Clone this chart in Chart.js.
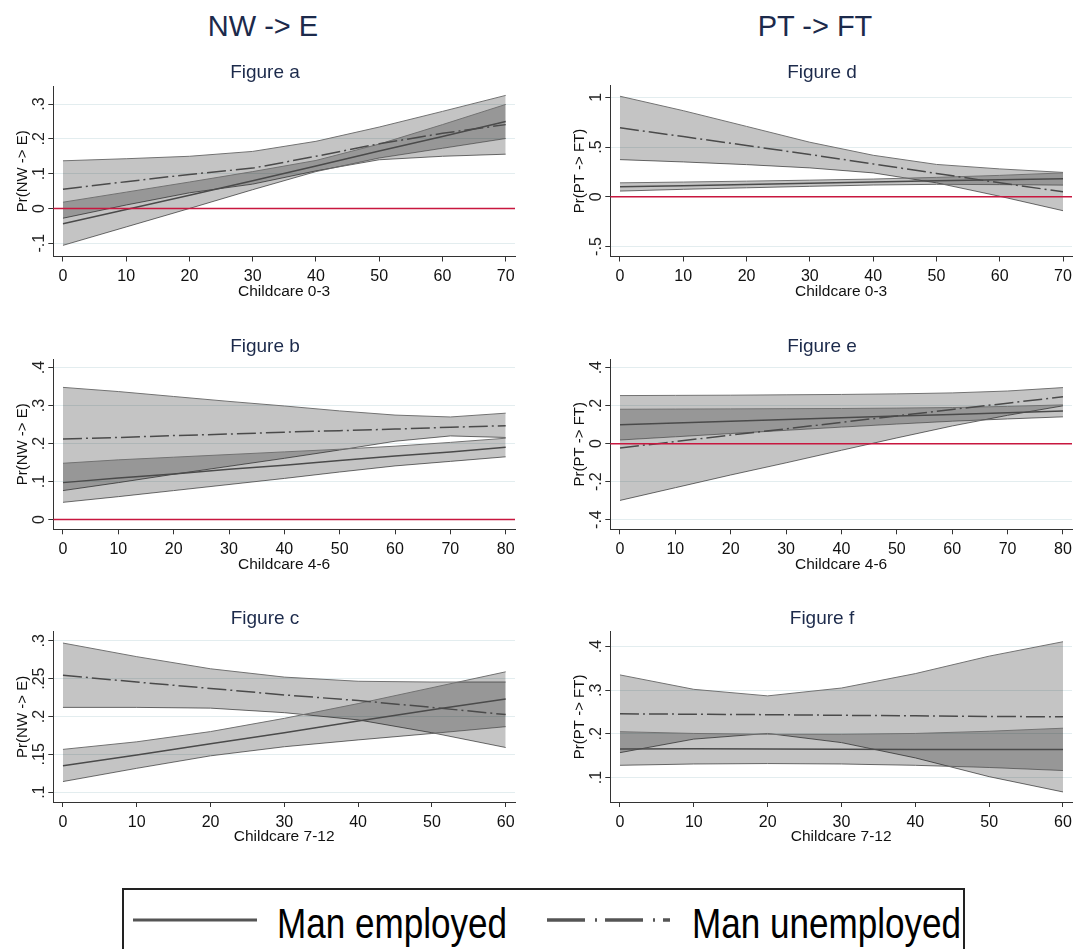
<!DOCTYPE html>
<html>
<head>
<meta charset="utf-8">
<title>Childcare margins</title>
<script src="https://cdn.jsdelivr.net/npm/chart.js@4.4.1/dist/chart.umd.min.js"></script>
<style>
    html, body { margin: 0; padding: 0; background: #fff; overflow: hidden; width: 1075px; height: 949px;
                 font-family: "Liberation Sans", Arial, sans-serif; }
    .panel { position: absolute; }
    .head { position: absolute; top: 9px; font-size: 29px; line-height: 34px; color: #1c2a4b;
            transform: translateX(-50%); white-space: nowrap; }
    #legend { position: absolute; left: 122px; top: 888px; width: 843px; height: 90px;
              border: 2px solid #222; box-sizing: border-box; }
    #legend svg { position: absolute; left: 0; top: 0; }
    #legend span { position: absolute; top: 10px; font-size: 42px; line-height: 47px; color: #000; white-space: nowrap;
                   transform: scaleX(0.835); transform-origin: 0 0; }
</style>
</head>
<body>

<div class="head" style="left:263px">NW -&gt; E</div>
<div class="head" style="left:815px">PT -&gt; FT</div>

<div id="legend">
    <svg width="843" height="70">
        <line x1="9" y1="30" x2="133" y2="30" stroke="#555" stroke-width="3"/>
        <line x1="423" y1="30" x2="546" y2="30" stroke="#555" stroke-width="3.5" stroke-dasharray="38 10 2 8"/>
    </svg>
    <span style="left:153px">Man employed</span>
    <span style="left:568px">Man unemployed</span>
</div>

<script>
// ── Data ────────────────────────────────────────────────────────────────
// x values (also used as x tick labels)
var xs70 = [0, 10, 20, 30, 40, 50, 60, 70];
var xs80 = [0, 10, 20, 30, 40, 50, 60, 70, 80];
var xs60 = [0, 10, 20, 30, 40, 50, 60];

// Figure a – NW -> E, Childcare 0-3
var empA   = [-0.044, -0.003, 0.038, 0.080, 0.122, 0.165, 0.207, 0.250];
var empLoA = [-0.106, -0.053, 0.000, 0.054, 0.106, 0.145, 0.173, 0.201];
var empHiA = [0.018, 0.047, 0.076, 0.106, 0.138, 0.185, 0.241, 0.299];
var uneA   = [0.055, 0.077, 0.098, 0.116, 0.150, 0.186, 0.216, 0.241];
var uneLoA = [-0.028, 0.010, 0.045, 0.070, 0.108, 0.140, 0.150, 0.156];
var uneHiA = [0.137, 0.143, 0.150, 0.164, 0.193, 0.234, 0.279, 0.325];

// Figure b – NW -> E, Childcare 4-6
var empB   = [0.097, 0.109, 0.120, 0.132, 0.143, 0.155, 0.167, 0.178, 0.190];
var empLoB = [0.045, 0.060, 0.076, 0.092, 0.108, 0.125, 0.141, 0.153, 0.165];
var empHiB = [0.148, 0.157, 0.164, 0.171, 0.178, 0.185, 0.193, 0.203, 0.214];
var uneB   = [0.212, 0.216, 0.221, 0.225, 0.230, 0.234, 0.238, 0.243, 0.247];
var uneLoB = [0.076, 0.097, 0.119, 0.140, 0.161, 0.183, 0.206, 0.220, 0.216];
var uneHiB = [0.348, 0.337, 0.324, 0.311, 0.299, 0.286, 0.275, 0.270, 0.280];

// Figure c – NW -> E, Childcare 7-12
var empC   = [0.135, 0.149, 0.164, 0.1785, 0.194, 0.209, 0.223];
var empLoC = [0.114, 0.1315, 0.148, 0.160, 0.169, 0.1775, 0.1865];
var empHiC = [0.1565, 0.1665, 0.180, 0.1975, 0.217, 0.238, 0.259];
var uneC   = [0.2545, 0.2455, 0.237, 0.2285, 0.221, 0.212, 0.2025];
var uneLoC = [0.212, 0.212, 0.211, 0.205, 0.1955, 0.1785, 0.159];
var uneHiC = [0.297, 0.279, 0.263, 0.252, 0.2465, 0.2455, 0.2455];

// Figure d – PT -> FT, Childcare 0-3
var empD   = [0.100, 0.112, 0.124, 0.136, 0.148, 0.160, 0.170, 0.180];
var empLoD = [0.057, 0.075, 0.090, 0.105, 0.118, 0.125, 0.122, 0.117];
var empHiD = [0.140, 0.148, 0.157, 0.167, 0.178, 0.195, 0.215, 0.240];
var uneD   = [0.693, 0.605, 0.515, 0.425, 0.330, 0.235, 0.140, 0.050];
var uneLoD = [0.373, 0.350, 0.323, 0.290, 0.240, 0.140, 0.005, -0.140];
var uneHiD = [1.010, 0.865, 0.707, 0.548, 0.417, 0.325, 0.280, 0.245];

// Figure e – PT -> FT, Childcare 4-6
var empE   = [0.100, 0.109, 0.118, 0.127, 0.136, 0.145, 0.154, 0.163, 0.172];
var empLoE = [0.019, 0.036, 0.053, 0.070, 0.087, 0.103, 0.118, 0.130, 0.141];
var empHiE = [0.181, 0.182, 0.183, 0.184, 0.185, 0.187, 0.190, 0.196, 0.204];
var uneE   = [-0.023, 0.011, 0.045, 0.078, 0.112, 0.146, 0.180, 0.213, 0.247];
var uneLoE = [-0.299, -0.232, -0.165, -0.101, -0.035, 0.030, 0.093, 0.149, 0.199];
var uneHiE = [0.253, 0.254, 0.255, 0.257, 0.259, 0.262, 0.267, 0.277, 0.295];

// Figure f – PT -> FT, Childcare 7-12
var empF   = [0.1655, 0.166, 0.1655, 0.165, 0.1645, 0.1645, 0.1645];
var empLoF = [0.128, 0.131, 0.132, 0.131, 0.128, 0.123, 0.116];
var empHiF = [0.205, 0.201, 0.199, 0.199, 0.201, 0.206, 0.213];
var uneF   = [0.246, 0.245, 0.244, 0.2425, 0.2415, 0.240, 0.239];
var uneLoF = [0.157, 0.188, 0.201, 0.180, 0.145, 0.102, 0.067];
var uneHiF = [0.335, 0.302, 0.287, 0.305, 0.338, 0.378, 0.411];

// y tick labels
var yTicksA = [-0.1, 0, 0.1, 0.2, 0.3];
var yTicksB = [0, 0.1, 0.2, 0.3, 0.4];
var yTicksC = [0.1, 0.15, 0.2, 0.25, 0.3];
var yTicksD = [-0.5, 0, 0.5, 1];
var yTicksE = [-0.4, -0.2, 0, 0.2, 0.4];
var yTicksF = [0.1, 0.2, 0.3, 0.4];

// ── Panels (layout: canvas box [left, top, w, h], plot rect [L, T, R, B]) ──
var panels = [
    { title: 'Figure a', xTitle: 'Childcare 0-3', yTitle: 'Pr(NW -> E)', xs: xs70, yTicks: yTicksA,
      emp: [empLoA, empA, empHiA], une: [uneLoA, uneA, uneHiA],
      xMin: -1.53, xMax: 71.47, yMin: -0.138, yMax: 0.352,
      box: [0, 50, 530, 270], plot: [53.3, 86, 515, 256.5], titleX: 265 },
    { title: 'Figure b', xTitle: 'Childcare 4-6', yTitle: 'Pr(NW -> E)', xs: xs80, yTicks: yTicksB,
      emp: [empLoB, empB, empHiB], une: [uneLoB, uneB, uneHiB],
      xMin: -1.75, xMax: 81.68, yMin: -0.026, yMax: 0.422,
      box: [0, 324, 530, 272], plot: [53.3, 359.3, 515, 529.3], titleX: 265 },
    { title: 'Figure c', xTitle: 'Childcare 7-12', yTitle: 'Pr(NW -> E)', xs: xs60, yTicks: yTicksC,
      emp: [empLoC, empC, empHiC], une: [uneLoC, uneC, uneHiC],
      xMin: -1.31, xMax: 61.26, yMin: 0.087, yMax: 0.312,
      box: [0, 598, 530, 272], plot: [53.3, 631.7, 515, 802], titleX: 265 },
    { title: 'Figure d', xTitle: 'Childcare 0-3', yTitle: 'Pr(PT -> FT)', xs: xs70, yTicks: yTicksD,
      emp: [empLoD, empD, empHiD], une: [uneLoD, uneD, uneHiD],
      xMin: -1.53, xMax: 71.42, yMin: -0.6, yMax: 1.118,
      box: [530, 50, 560, 270], plot: [610.3, 85.5, 1072, 256.5], titleX: 292 },
    { title: 'Figure e', xTitle: 'Childcare 4-6', yTitle: 'Pr(PT -> FT)', xs: xs80, yTicks: yTicksE,
      emp: [empLoE, empE, empHiE], une: [uneLoE, uneE, uneHiE],
      xMin: -1.75, xMax: 81.63, yMin: -0.451, yMax: 0.444,
      box: [530, 324, 560, 272], plot: [610.3, 359.3, 1072, 529.3], titleX: 292 },
    { title: 'Figure f', xTitle: 'Childcare 7-12', yTitle: 'Pr(PT -> FT)', xs: xs60, yTicks: yTicksF,
      emp: [empLoF, empF, empHiF], une: [uneLoF, uneF, uneHiF],
      xMin: -1.31, xMax: 61.22, yMin: 0.044, yMax: 0.434,
      box: [530, 598, 560, 272], plot: [610.3, 631.7, 1072, 802], titleX: 292 }
];

var FONT = '"Liberation Sans", Arial, sans-serif';
var Y_AXIS_W = 45, X_AXIS_H = 46;
var BAND_FILL = 'rgba(0,0,0,0.23)', BAND_EDGE = '#727272', LINE_COL = '#4a4a4a';

Chart.defaults.font.family = FONT;

// Stata style numbers: .3, -.1, 0, 1
function stataNum(v) {
    var s = String(Math.round(v * 1000) / 1000);
    return s.replace(/^(-?)0\./, '$1.');
}

function pts(xs, ys) {
    return xs.map(function(x, i) { return { x: x, y: ys[i] }; });
}

// red y=0 line, rotated y tick labels, panel title
var stataDecor = {
    id: 'stataDecor',
    afterDatasetsDraw: function(chart) {
        var y = chart.scales.y, area = chart.chartArea, ctx = chart.ctx;
        if (y.min < 0 && y.max > 0) {
            var py = y.getPixelForValue(0);
            ctx.save();
            ctx.strokeStyle = '#c8173f';
            ctx.lineWidth = 1.5;
            ctx.beginPath();
            ctx.moveTo(area.left, py);
            ctx.lineTo(area.right, py);
            ctx.stroke();
            ctx.restore();
        }
    },
    afterDraw: function(chart, args, opts) {
        var y = chart.scales.y, ctx = chart.ctx;
        ctx.save();
        ctx.font = '16px ' + FONT;
        ctx.fillStyle = '#222';
        ctx.textAlign = 'center';
        ctx.textBaseline = 'middle';
        y.ticks.forEach(function(t) {
            ctx.save();
            ctx.translate(y.right - 13.3, y.getPixelForValue(t.value));
            ctx.rotate(-Math.PI / 2);
            ctx.fillText(stataNum(t.value), 0, 0);
            ctx.restore();
        });
        ctx.font = '19px ' + FONT;
        ctx.fillStyle = '#1c2a4b';
        ctx.fillText(opts.title, opts.titleX, chart.chartArea.top - 13);
        ctx.restore();
    }
};

panels.forEach(function(p) {
    var div = document.createElement('div');
    div.className = 'panel';
    div.style.left = p.box[0] + 'px';
    div.style.top = p.box[1] + 'px';
    var cv = document.createElement('canvas');
    cv.width = p.box[2];
    cv.height = p.box[3];
    cv.style.width = p.box[2] + 'px';
    cv.style.height = p.box[3] + 'px';
    div.appendChild(cv);
    document.body.appendChild(div);

    var pad = {
        left: p.plot[0] - p.box[0] - Y_AXIS_W,
        top: p.plot[1] - p.box[1],
        right: p.box[0] + p.box[2] - p.plot[2],
        bottom: p.box[1] + p.box[3] - p.plot[3] - X_AXIS_H
    };

    var edge = { borderColor: BAND_EDGE, borderWidth: 1, pointRadius: 0, backgroundColor: BAND_FILL };

    new Chart(cv, {
        type: 'line',
        data: {
            datasets: [
                { label: 'Man employed', data: pts(p.xs, p.emp[1]), borderColor: LINE_COL, borderWidth: 1.5, pointRadius: 0, fill: false },
                { label: 'Man unemployed', data: pts(p.xs, p.une[1]), borderColor: LINE_COL, borderWidth: 1.5, pointRadius: 0, fill: false,
                  borderDash: [19, 4, 2, 4] },
                Object.assign({ data: pts(p.xs, p.emp[2]), fill: '+1' }, edge),
                Object.assign({ data: pts(p.xs, p.emp[0]), fill: false }, edge),
                Object.assign({ data: pts(p.xs, p.une[2]), fill: '+1' }, edge),
                Object.assign({ data: pts(p.xs, p.une[0]), fill: false }, edge)
            ]
        },
        options: {
            responsive: false,
            animation: false,
            events: [],
            layout: { padding: pad, autoPadding: false },
            plugins: {
                legend: { display: false },
                tooltip: { enabled: false },
                stataDecor: { title: p.title, titleX: p.titleX }
            },
            scales: {
                x: {
                    type: 'linear', min: p.xMin, max: p.xMax,
                    afterBuildTicks: function(s) { s.ticks = p.xs.map(function(v) { return { value: v }; }); },
                    afterFit: function(s) { s.height = X_AXIS_H; },
                    grid: { drawOnChartArea: false, tickLength: 5, color: '#333', tickColor: '#333' },
                    border: { color: '#333', width: 1 },
                    ticks: { font: { size: 16 }, color: '#111', padding: 5.5, maxRotation: 0, autoSkip: false },
                    title: { display: true, text: p.xTitle, font: { size: 15.5 }, color: '#111', padding: { top: 0, bottom: 1.6 } }
                },
                y: {
                    type: 'linear', min: p.yMin, max: p.yMax,
                    afterBuildTicks: function(s) { s.ticks = p.yTicks.map(function(v) { return { value: v }; }); },
                    afterFit: function(s) { s.width = Y_AXIS_W; },
                    grid: { color: '#e3edef', tickLength: 5, tickColor: '#333' },
                    border: { color: '#333', width: 1 },
                    ticks: { display: false },
                    title: { display: true, text: p.yTitle, font: { size: 15 }, color: '#111', padding: { top: 5.4, bottom: 0 } }
                }
            }
        },
        plugins: [stataDecor]
    });
});
</script>
</body>
</html>
